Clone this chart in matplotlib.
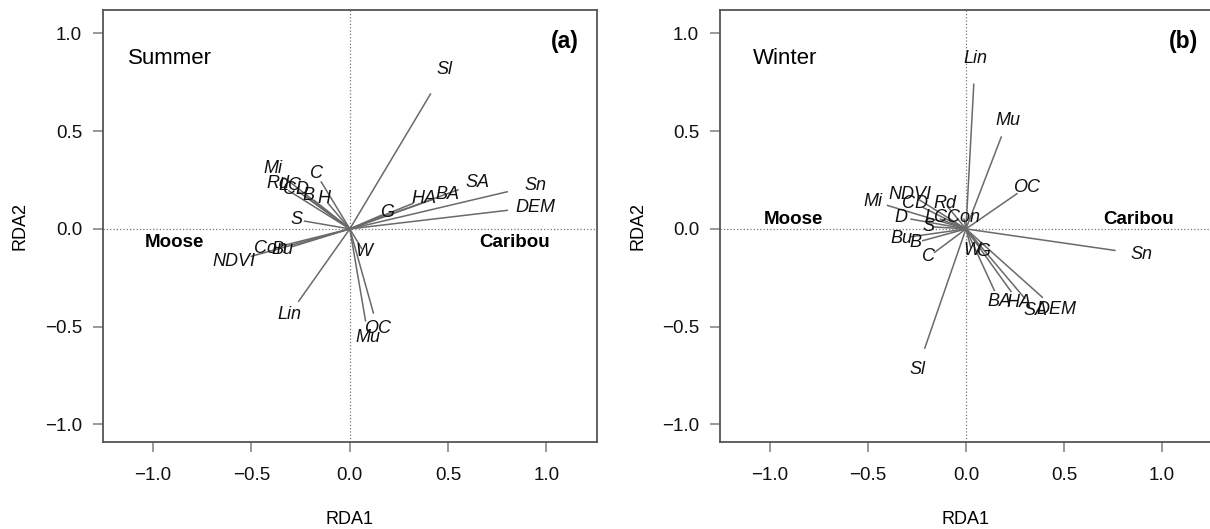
import matplotlib
matplotlib.use("Agg")
import matplotlib.pyplot as plt

plt.rcParams['font.family'] = ['Liberation Sans', 'DejaVu Sans']

# summer RDA biplot vectors (arrow tips)
summer_vars = ["Sl", "Sn", "DEM", "SA", "BA", "HA", "G", "W", "OC", "Mu", "Lin",
               "NDVI", "Con", "Bu", "S", "Mi", "C", "Rd", "LC", "CD", "B", "H"]
summer_x = [0.41, 0.80, 0.80, 0.55, 0.42, 0.32, 0.16, 0.06, 0.12, 0.08, -0.26,
            -0.50, -0.34, -0.29, -0.23, -0.33, -0.145, -0.31, -0.26, -0.23, -0.18, -0.11]
summer_y = [0.69, 0.19, 0.095, 0.20, 0.15, 0.13, 0.07, -0.10, -0.43, -0.47, -0.37,
            -0.14, -0.085, -0.09, 0.04, 0.26, 0.24, 0.195, 0.19, 0.17, 0.145, 0.13]

# winter RDA biplot vectors (arrow tips)
winter_vars = ["Lin", "Mu", "OC", "Sn", "DEM", "SA", "HA", "BA", "W", "G", "Sl",
               "C", "B", "Bu", "S", "D", "Mi", "NDVI", "CD", "Rd", "LC", "Con"]
winter_x = [0.04, 0.18, 0.26, 0.76, 0.39, 0.30, 0.23, 0.145, 0.025, 0.075, -0.21,
            -0.16, -0.22, -0.28, -0.16, -0.28, -0.40, -0.24, -0.22, -0.09, -0.13, -0.01]
winter_y = [0.74, 0.47, 0.18, -0.11, -0.35, -0.355, -0.32, -0.315, -0.095, -0.10, -0.61,
            -0.12, -0.06, -0.04, 0.01, 0.05, 0.12, 0.15, 0.11, 0.11, 0.05, 0.05]

species = ["Moose", "Caribou"]
summer_species_x = [-0.89, 0.84]
summer_species_y = [-0.067, -0.067]
winter_species_x = [-0.88, 0.88]
winter_species_y = [0.05, 0.05]

LABEL_MULT = 1.18
ticks = [-1.0, -0.5, 0.0, 0.5, 1.0]


def draw_panel(ax, names, xs, ys, sp_x, sp_y, season, season_x, tag, tag_x):
    ax.axhline(0, color='#777777', ls=':', lw=0.9, zorder=1)
    ax.axvline(0, color='#777777', ls=':', lw=0.9, zorder=1)
    for n, x, y in zip(names, xs, ys):
        ax.plot([0, x], [0, y], color='#6a6a6a', lw=1.1, zorder=2)
        ax.text(x * LABEL_MULT, y * LABEL_MULT, n, fontsize=13, style='italic',
                ha='center', va='center', color='#111111', zorder=3)
    for s, x, y in zip(species, sp_x, sp_y):
        ax.text(x, y, s, fontsize=13.5, fontweight='bold', ha='center', va='center')
    ax.text(season_x, 0.888, season, transform=ax.transAxes, fontsize=16,
            ha='left', va='center')
    ax.text(tag_x, 0.928, tag, transform=ax.transAxes, fontsize=16.5,
            fontweight='bold', ha='center', va='center')
    ax.set_xlim(-1.255, 1.255)
    ax.set_ylim(-1.09, 1.12)
    ax.set_xticks(ticks)
    ax.set_yticks(ticks)
    ax.tick_params(direction='out', length=7, width=1.2, colors='#888888',
                   labelcolor='#111111', labelsize=13.5)
    ax.tick_params(axis='x', pad=11)
    ax.tick_params(axis='y', pad=8)
    for sp in ax.spines.values():
        sp.set_color('#555555')
        sp.set_linewidth(1.3)
    ax.set_xlabel("RDA1", fontsize=13)
    ax.set_ylabel("RDA2", fontsize=13)
    ax.xaxis.set_label_coords(0.5, -0.16)
    ax.yaxis.set_label_coords(-0.15, 0.5)


fig = plt.figure(figsize=(12.1, 5.29), dpi=100)
ax1 = fig.add_axes([0.0851, 0.1645, 0.408, 0.8166])
ax2 = fig.add_axes([0.595, 0.1645, 0.4066, 0.8166])

draw_panel(ax1, summer_vars, summer_x, summer_y, summer_species_x, summer_species_y,
           "Summer", 0.05, "(a)", 0.935)
draw_panel(ax2, winter_vars, winter_x, winter_y, winter_species_x, winter_species_y,
           "Winter", 0.067, "(b)", 0.943)

fig.savefig("out.png", dpi=100)
